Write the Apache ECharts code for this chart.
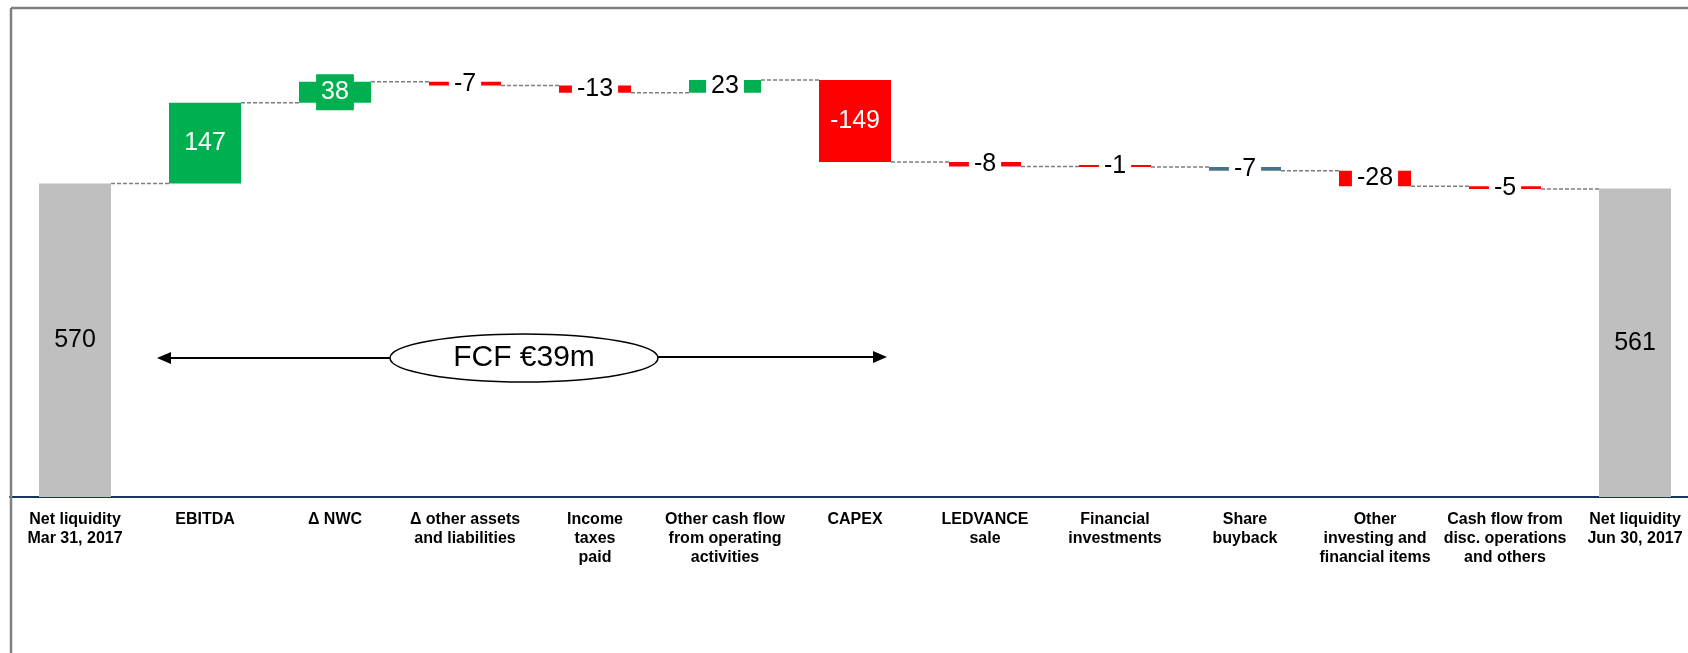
<!DOCTYPE html>
<html>
<head>
<meta charset="utf-8">
<script src="https://cdn.jsdelivr.net/npm/echarts@6/dist/echarts.min.js"></script>
<style>
html,body{margin:0;padding:0;background:#fff;}
#chart{width:1688px;height:653px;}
</style>
</head>
<body>
<div id="chart"></div>
<script>
const categories = [
  'Net liquidity\nMar 31, 2017',
  'EBITDA',
  'Δ NWC',
  'Δ other assets\nand liabilities',
  'Income\ntaxes\npaid',
  'Other cash flow\nfrom operating\nactivities',
  'CAPEX',
  'LEDVANCE\nsale',
  'Financial\ninvestments',
  'Share\nbuyback',
  'Other\ninvesting and\nfinancial items',
  'Cash flow from\ndisc. operations\nand others',
  'Net liquidity\nJun 30, 2017'
];
// first and last are totals, the rest are changes
const values = [570, 147, 38, -7, -13, 23, -149, -8, -1, -7, -28, -5, 561];
const isTotal = [true, false, false, false, false, false, false, false, false, false, false, false, true];
const annotationText = 'FCF €39m';

const FONT = '"Liberation Sans", Arial, Helvetica, sans-serif';
const GREEN = '#00B050', RED = '#FF0000', GRAY = '#BFBFBF', SLATE = '#4A7386';
const specialColors = { 'Share\nbuyback': SLATE };

// running totals
const baseData = [], barData = [], levels = [];
let run = 0;
values.forEach((v, i) => {
  let start, end;
  if (isTotal[i]) { start = 0; end = v; run = v; }
  else { start = run; end = run + v; run = end; }
  levels.push(end);
  const lo = Math.min(start, end), hi = Math.max(start, end);
  baseData.push(lo);
  let color = isTotal[i] ? GRAY : (v >= 0 ? GREEN : RED);
  if (specialColors[categories[i]]) color = specialColors[categories[i]];
  const a = Math.abs(v);
  let label;
  if (isTotal[i]) {
    label = { show: true, position: 'inside', color: '#000', fontSize: 25, fontFamily: FONT };
  } else if (a >= 100) {
    label = { show: true, position: 'inside', color: '#fff', fontSize: 25, fontFamily: FONT };
  } else if (a >= 30) {
    label = { show: true, position: 'inside', color: '#fff', fontSize: 25, fontFamily: FONT,
      backgroundColor: color, padding: [5, 5], lineHeight: 26 };
  } else {
    label = { show: true, position: 'inside', color: '#000', fontSize: 25, fontFamily: FONT,
      backgroundColor: '#fff', padding: [5, 5], lineHeight: 26 };
  }
  label.formatter = String(v);
  barData.push({ value: hi - lo, itemStyle: { color: color }, label: label });
});

const connectorData = [];
for (let i = 0; i < values.length - 1; i++) connectorData.push([i, levels[i]]);

const BAR_W = 72;
const chart = echarts.init(document.getElementById('chart'), null, { renderer: 'canvas' });
chart.setOption({
  animation: false,
  backgroundColor: '#fff',
  grid: { left: 10, right: -12, top: 57, bottom: 156, containLabel: false, outerBoundsMode: 'none' },
  xAxis: {
    type: 'category',
    data: categories,
    axisLine: { show: true, lineStyle: { color: '#17375E', width: 2 } },
    axisTick: { show: false },
    axisLabel: {
      interval: 0, margin: 13, color: '#000', fontWeight: 'bold',
      fontSize: 16, lineHeight: 19, fontFamily: FONT, hideOverlap: false
    },
    splitLine: { show: false }
  },
  yAxis: { type: 'value', min: 0, max: 800, show: false, splitLine: { show: false } },
  series: [
    {
      type: 'custom',
      z: 1,
      silent: true,
      data: connectorData,
      renderItem: function (params, api) {
        const p = api.coord([api.value(0), api.value(1)]);
        const band = api.size([1, 0])[0];
        return {
          type: 'line',
          shape: { x1: p[0] + BAR_W / 2, y1: p[1], x2: p[0] + band - BAR_W / 2, y2: p[1] },
          style: { stroke: '#7F7F7F', lineWidth: 1.5, lineDash: [4, 2] }
        };
      }
    },
    {
      type: 'bar', stack: 'wf', barWidth: BAR_W, z: 2, silent: true,
      itemStyle: { color: 'transparent' },
      data: baseData
    },
    {
      type: 'bar', stack: 'wf', barWidth: BAR_W, z: 3, silent: true, barMinHeight: 2,
      labelLayout: { hideOverlap: false },
      data: barData
    }
  ],
  graphic: [
    { type: 'line', z: 10, shape: { x1: 11, y1: 8, x2: 1688, y2: 8 }, style: { stroke: '#808080', lineWidth: 2.5 } },
    { type: 'line', z: 10, shape: { x1: 11, y1: 8, x2: 11, y2: 653 }, style: { stroke: '#808080', lineWidth: 2.5 } },
    { type: 'line', z: 10, shape: { x1: 168, y1: 358, x2: 392, y2: 358 }, style: { stroke: '#000', lineWidth: 2 } },
    { type: 'polygon', z: 10, shape: { points: [[157, 358], [171, 352], [171, 364]] }, style: { fill: '#000' } },
    { type: 'line', z: 10, shape: { x1: 657, y1: 357, x2: 876, y2: 357 }, style: { stroke: '#000', lineWidth: 2 } },
    { type: 'polygon', z: 10, shape: { points: [[887, 357], [873, 351], [873, 363]] }, style: { fill: '#000' } },
    { type: 'ellipse', z: 11, shape: { cx: 524, cy: 358, rx: 134, ry: 24 }, style: { fill: '#fff', stroke: '#000', lineWidth: 1.5 } },
    { type: 'text', z: 12, x: 524, y: 358, style: { text: annotationText, fill: '#000', font: '30px ' + FONT, textAlign: 'center', textVerticalAlign: 'middle' } }
  ]
});
</script>
</body>
</html>
